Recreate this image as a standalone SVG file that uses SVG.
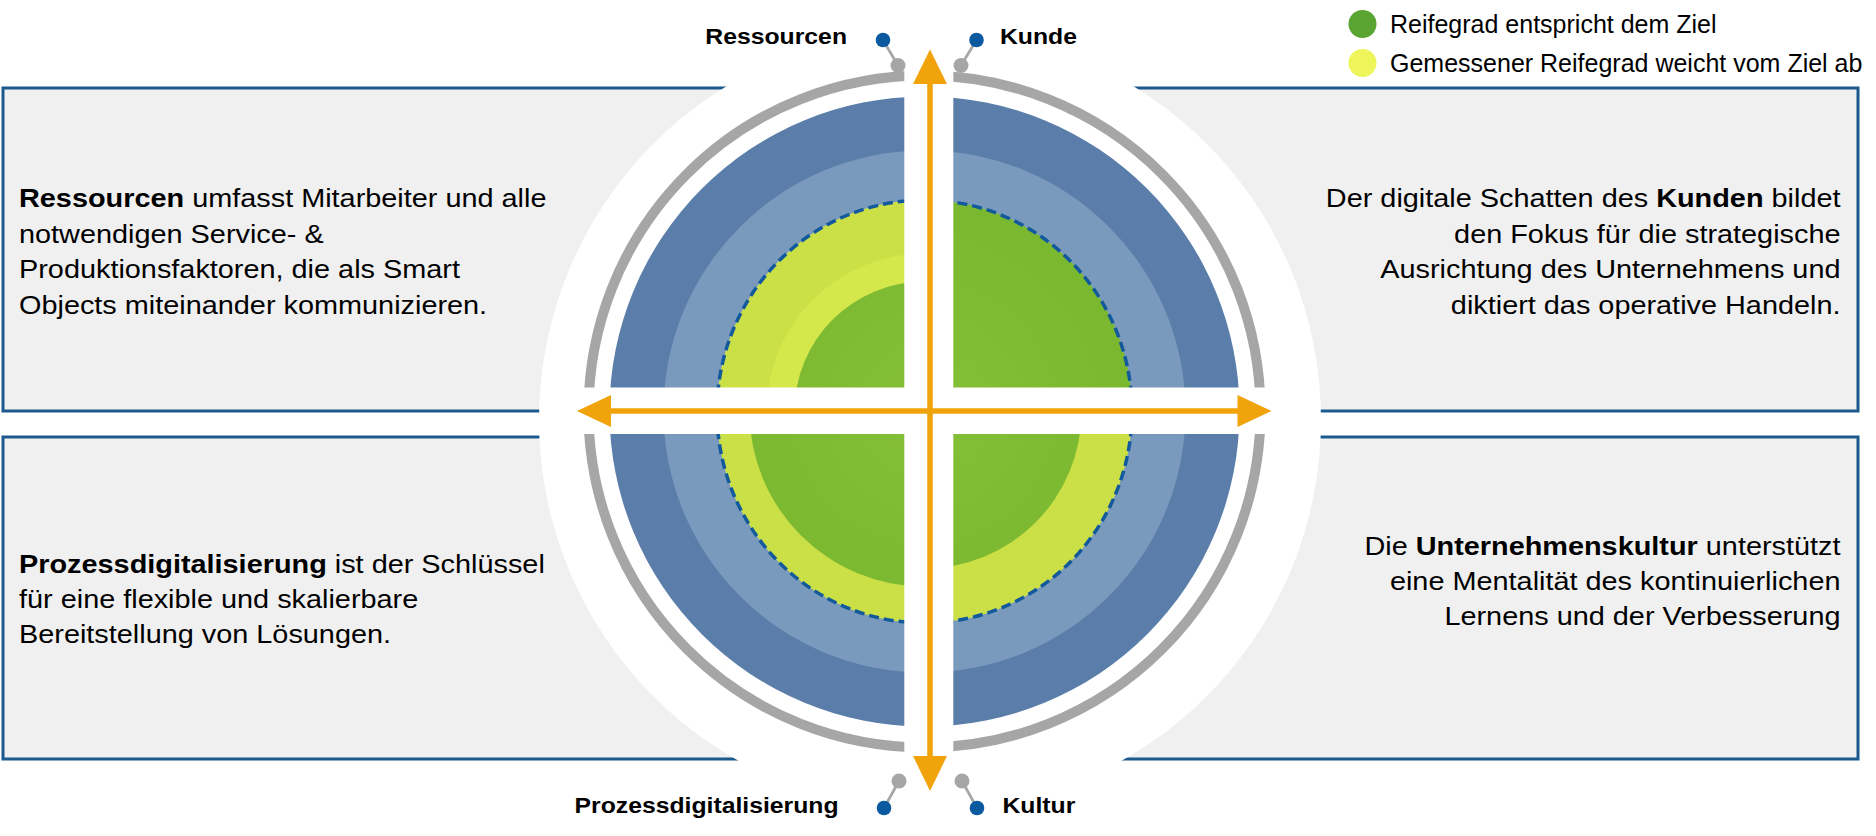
<svg xmlns="http://www.w3.org/2000/svg" width="1876" height="836" viewBox="0 0 1876 836">
<style>
.panel{fill:#f0f0f0;stroke:#1a5a8e;stroke-width:3}
.txt{font-family:"Liberation Sans",Arial,sans-serif;font-size:26px;fill:#000}
.lbl{font-family:"Liberation Sans",Arial,sans-serif;font-size:22.5px;font-weight:bold;fill:#000}
.leg{font-family:"Liberation Sans",Arial,sans-serif;font-size:25px;fill:#000}
.b{font-weight:bold}
.gdot{fill:#a6a6a6}
.bdot{fill:#0b5aa0}
.lnk{stroke:#a6a6a6;stroke-width:2.7}
.arr{stroke:#f0a30a;stroke-width:5.5;fill:none}
.head{fill:#f0a30a}
</style>
<defs>
<clipPath id="cTL"><rect x="0" y="0" width="929" height="411"/></clipPath>
<clipPath id="cTR"><rect x="929" y="0" width="947" height="411"/></clipPath>
<clipPath id="cBL"><rect x="0" y="411" width="929" height="425"/></clipPath>
<clipPath id="cBR"><rect x="929" y="411" width="947" height="425"/></clipPath>
<radialGradient id="gr" cx="924.5" cy="411.5" r="212" gradientUnits="userSpaceOnUse">
<stop offset="0" stop-color="#84bf37"/>
<stop offset="1" stop-color="#7ab830"/>
</radialGradient>
</defs>

<g id="panels">
<g id="panel-ressourcen"><rect class="panel" x="3" y="88" width="927" height="323"/></g>
<g id="panel-kunde"><rect class="panel" x="930" y="88" width="928" height="323"/></g>
<g id="panel-prozess"><rect class="panel" x="3" y="437" width="927" height="322"/></g>
<g id="panel-kultur"><rect class="panel" x="930" y="437" width="928" height="322"/></g>
</g>

<g id="disk">
<circle cx="930" cy="420" r="391" fill="#ffffff"/>
<circle cx="924.5" cy="411.5" r="336" fill="none" stroke="#a6a6a6" stroke-width="10"/>
<circle cx="924.5" cy="411.5" r="315" fill="#5a7ea9"/>
<circle cx="924.5" cy="411.5" r="261" fill="#7a9abd"/>
<g clip-path="url(#cTL)">
<ellipse cx="924.5" cy="411.5" rx="207.5" ry="211.5" fill="#cbdf46"/>
<circle cx="924.5" cy="411.5" r="158" fill="#d5e84b"/>
<circle cx="924.5" cy="411.5" r="130" fill="url(#gr)"/>
</g>
<g clip-path="url(#cTR)">
<ellipse cx="924.5" cy="411.5" rx="207.5" ry="211.5" fill="url(#gr)"/>
</g>
<g clip-path="url(#cBL)">
<ellipse cx="924.5" cy="411.5" rx="207.5" ry="211.5" fill="#cbdf46"/>
<circle cx="924.5" cy="411.5" r="175" fill="url(#gr)"/>
</g>
<g clip-path="url(#cBR)">
<ellipse cx="924.5" cy="411.5" rx="207.5" ry="211.5" fill="#cbdf46"/>
<circle cx="924.5" cy="411.5" r="157" fill="url(#gr)"/>
</g>
<ellipse cx="924.5" cy="411.5" rx="207.5" ry="211.5" fill="none" stroke="#135a9c" stroke-width="3.5" stroke-dasharray="10 5"/>
<rect x="904.3" y="50" width="49" height="720" fill="#ffffff"/>
<rect x="570" y="387.5" width="710" height="46.5" fill="#ffffff"/>
</g>

<g id="connectors">
<line class="arr" x1="930" y1="80" x2="930" y2="759"/>
<polygon class="head" points="930,49.5 913,84 947,84"/>
<polygon class="head" points="930,791 913,756 947,756"/>
<line class="arr" x1="608" y1="411" x2="1240" y2="411"/>
<polygon class="head" points="577,411 611,395 611,427"/>
<polygon class="head" points="1271.5,411 1237.5,395 1237.5,427"/>
<line class="lnk" x1="883" y1="40" x2="898" y2="65.5"/>
<line class="lnk" x1="976.5" y1="40" x2="961" y2="65.5"/>
<line class="lnk" x1="884" y1="808" x2="899" y2="781"/>
<line class="lnk" x1="977" y1="808" x2="962" y2="781"/>
</g>

<g id="node-ressourcen">
<circle class="gdot" cx="898" cy="65.5" r="7.5"/>
<circle class="bdot" cx="883" cy="40" r="7.3"/>
<text class="lbl" transform="translate(847 44) scale(1.1 1)" text-anchor="end">Ressourcen</text>
</g>
<g id="node-kunde">
<circle class="gdot" cx="961" cy="65.5" r="7.5"/>
<circle class="bdot" cx="976.5" cy="40" r="7.3"/>
<text class="lbl" transform="translate(1000 44) scale(1.1 1)">Kunde</text>
</g>
<g id="node-prozess">
<circle class="gdot" cx="899" cy="781" r="7.5"/>
<circle class="bdot" cx="884" cy="808" r="7.3"/>
<text class="lbl" transform="translate(838.5 813) scale(1.1 1)" text-anchor="end">Prozessdigitalisierung</text>
</g>
<g id="node-kultur">
<circle class="gdot" cx="962" cy="781" r="7.5"/>
<circle class="bdot" cx="977" cy="808" r="7.3"/>
<text class="lbl" transform="translate(1002.5 813) scale(1.1 1)">Kultur</text>
</g>

<g id="legend">
<circle cx="1362.5" cy="24" r="14" fill="#5aa532"/>
<text class="leg" x="1390" y="33">Reifegrad entspricht dem Ziel</text>
<circle cx="1362.5" cy="63" r="14" fill="#eef55a"/>
<text class="leg" x="1390" y="72">Gemessener Reifegrad weicht vom Ziel ab</text>
</g>

<g id="text-ressourcen" transform="translate(19 0) scale(1.11 1)">
<text class="txt" x="0" y="207"><tspan class="b">Ressourcen</tspan> umfasst Mitarbeiter und alle</text>
<text class="txt" x="0" y="242.6">notwendigen Service- &amp;</text>
<text class="txt" x="0" y="278.2">Produktionsfaktoren, die als Smart</text>
<text class="txt" x="0" y="313.8">Objects miteinander kommunizieren.</text>
</g>
<g id="text-kunde" transform="translate(1840.5 0) scale(1.11 1)">
<text class="txt" x="0" y="207" text-anchor="end">Der digitale Schatten des <tspan class="b">Kunden</tspan> bildet</text>
<text class="txt" x="0" y="242.6" text-anchor="end">den Fokus für die strategische</text>
<text class="txt" x="0" y="278.2" text-anchor="end">Ausrichtung des Unternehmens und</text>
<text class="txt" x="0" y="313.8" text-anchor="end">diktiert das operative Handeln.</text>
</g>
<g id="text-prozess" transform="translate(19 0) scale(1.11 1)">
<text class="txt" x="0" y="573"><tspan class="b">Prozessdigitalisierung</tspan> ist der Schlüssel</text>
<text class="txt" x="0" y="608.3">für eine flexible und skalierbare</text>
<text class="txt" x="0" y="643.3">Bereitstellung von Lösungen.</text>
</g>
<g id="text-kultur" transform="translate(1840.5 0) scale(1.11 1)">
<text class="txt" x="0" y="555" text-anchor="end">Die <tspan class="b">Unternehmenskultur</tspan> unterstützt</text>
<text class="txt" x="0" y="590" text-anchor="end">eine Mentalität des kontinuierlichen</text>
<text class="txt" x="0" y="625" text-anchor="end">Lernens und der Verbesserung</text>
</g>
</svg>
